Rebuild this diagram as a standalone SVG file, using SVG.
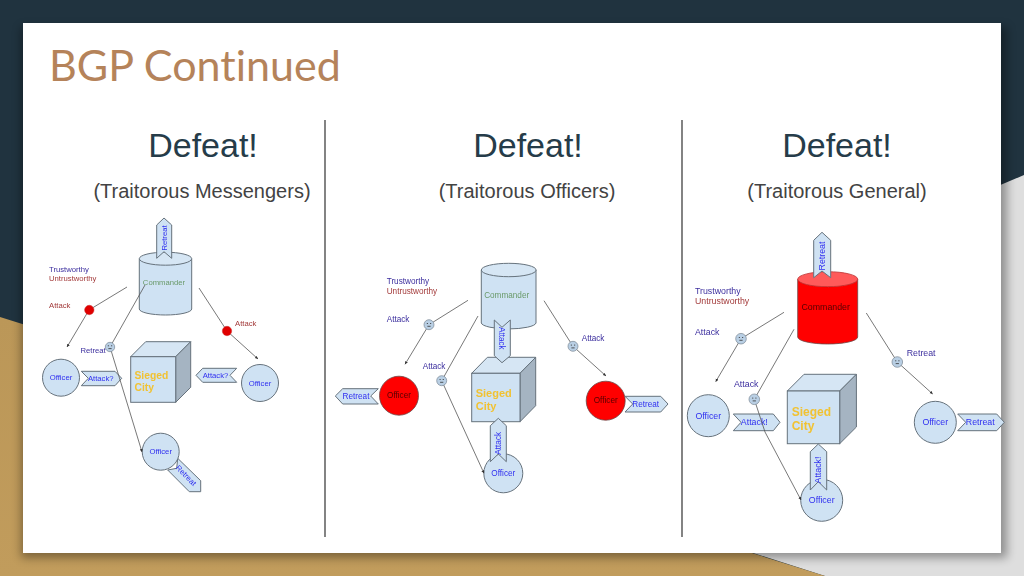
<svg xmlns="http://www.w3.org/2000/svg" xmlns:xlink="http://www.w3.org/1999/xlink" width="1024" height="576" viewBox="0 0 1024 576">
<style>
text{font-family:"Liberation Sans",Arial,sans-serif}
.title{font-family:"Lato","Open Sans",sans-serif;font-size:43px;fill:#b5835a;font-variant-ligatures:none}
.h{font-size:34px;fill:#263c49;text-anchor:middle}
.sub{font-size:20px;fill:#434343;text-anchor:middle}
.div{stroke:#333;stroke-width:1.2;fill:none}
.b{fill:#cfe2f3;stroke:#66727c;stroke-width:1}
.side{fill:#a5b4c2;stroke:#66727c;stroke-width:1}
.top{fill:#d6e6f4;stroke:#66727c;stroke-width:1}
.red{fill:#f00;stroke:#6b4a4a;stroke-width:.8}
.redtop{fill:#ff5a5a;stroke:#b33;stroke-width:.8}
.t{fill:#2f2ff0;text-anchor:middle;dominant-baseline:central}
.s7{font-size:7.7px}.s8{font-size:8.2px}.s9{font-size:8.8px}
.dk{fill:#550000}
.cmd{fill:#6a9a6a;text-anchor:middle;dominant-baseline:central}
.blue{fill:#3c2f9e}.rust{fill:#a33b3b}
.city{font-weight:bold;fill:#f1c232}
.c{stroke:#555;stroke-width:.8;fill:none}
.c2{marker-end:url(#a)}
.face{fill:#b9cfe4;stroke:#7a8794;stroke-width:.7}
.redface{fill:#e00000;stroke:#c33;stroke-width:.5}
.m{stroke:#333;stroke-width:.8;fill:none}
</style>
<defs>
<marker id="a" markerWidth="5" markerHeight="5" refX="3" refY="1.5" orient="auto" markerUnits="userSpaceOnUse"><path d="M0 0L3 1.5L0 3z" fill="#333"/></marker>
<filter id="sh" x="-5%" y="-5%" width="110%" height="110%"><feGaussianBlur stdDeviation="5"/></filter>
<filter id="soft" x="0" y="0" width="100%" height="100%" filterUnits="userSpaceOnUse" primitiveUnits="userSpaceOnUse"><feGaussianBlur stdDeviation=".35"/></filter>
<linearGradient id="gold" x1="0" y1="0" x2="0" y2="1"><stop offset="0" stop-color="#bb9758"/><stop offset="1" stop-color="#c19c5c"/></linearGradient>
<g id="sm"><path class="m" d="M-2.2-1.2h1.2M1-1.2h1.2M-1.6 1.6h3.2"/></g>
</defs>

<rect width="1024" height="576" fill="#20333f"/>
<polygon points="1024,175 1024,576 825,576 400,440" fill="#dedede"/>
<polygon points="0,317 825,576 0,576" fill="url(#gold)"/>
<rect x="21" y="27" width="986" height="531" fill="#000" opacity=".35" filter="url(#sh)"/>
<rect x="23" y="23" width="978" height="530" fill="#fff"/>

<text class="title" x="49" y="81">BGP Continued</text>
<text class="h" x="203" y="157">Defeat!</text><text class="sub" x="202" y="198">(Traitorous Messengers)</text>
<text class="h" x="528" y="157">Defeat!</text><text class="sub" x="527" y="198">(Traitorous Officers)</text>
<text class="h" x="837" y="157">Defeat!</text><text class="sub" x="837" y="198">(Traitorous General)</text>
<path class="div" d="M325 120V537M682 120V537"/>

<g filter="url(#soft)">
<!-- Panel 1 -->
<g id="p1-commander">
<path class="b" d="M139.3 258.7V309A26.2 6 0 0 0 191.7 309V258.7"/><ellipse class="top" cx="165.5" cy="258.7" rx="26.2" ry="6.5"/>
<text class="cmd s7" x="164" y="282">Commander</text>
</g>
<g id="p1-commander-retreat"><polygon class="b" points="156.7,258.3 156.7,225 164,218 171.7,225 171.7,258.3 164,251.7"/><text class="t s7" transform="translate(164.3 238) rotate(-90)">Retreat</text></g>
<g id="p1-legend"><text class="blue s7" x="49" y="272">Trustworthy</text><text class="rust s7" x="49" y="281">Untrustworthy</text><text class="rust s7" x="49" y="308">Attack</text><text class="rust s7" x="235" y="326">Attack</text><text class="blue s7" x="80.5" y="353">Retreat</text></g>
<g id="p1-city">
<polygon class="top" points="130.7,356.7 145.7,341.7 190.7,341.7 175.7,356.7"/><polygon class="side" points="175.7,356.7 190.7,341.7 190.7,387.3 175.7,402.3"/><rect class="b" x="130.7" y="356.7" width="45" height="45.6"/>
<text class="city" font-size="10.3" x="134.5" y="378.5">Sieged</text><text class="city" font-size="10.3" x="134.5" y="391">City</text>
</g>
<g id="p1-officer-left"><circle class="b" cx="61" cy="377.7" r="18.5"/><text class="t s7" x="61" y="377.7">Officer</text></g>
<g id="p1-attack-left"><polygon class="b" points="81.3,371.3 115,371.3 121.7,378.3 115,385.7 81.3,385.7 88.3,378.3"/><text class="t s7" x="100.7" y="378.3">Attack?</text></g>
<g id="p1-officer-right"><circle class="b" cx="260" cy="383" r="18.5"/><text class="t s7" x="260" y="383">Officer</text></g>
<g id="p1-attack-right"><polygon class="b" points="236.7,368.3 202.7,368.3 196,375.3 202.7,382.3 236.7,382.3 230,375.3"/><text class="t s7" x="215.5" y="375.3">Attack?</text></g>
<g id="p1-retreat-bottom"><polygon class="b" points="177.7,458.3 200.7,480.7 200.7,491.7 189.3,491.7 167.7,470 176.7,468.3"/></g>
<g id="p1-officer-bottom"><circle class="b" cx="160.7" cy="451.7" r="18.5"/><text class="t s7" x="160.7" y="451.7">Officer</text><text class="t s7" transform="translate(186 475.5) rotate(45)">Retreat</text></g>

<!-- Panel 2 -->
<g id="p2-commander">
<path class="b" d="M481.3 270V323A27.4 6.3 0 0 0 536 323V270"/><ellipse class="top" cx="508.7" cy="270" rx="27.4" ry="6.7"/>
<text class="cmd s8" x="506.7" y="295.3">Commander</text>
</g>
<g id="p2-legend"><text class="blue s8" x="386.7" y="284.3">Trustworthy</text><text class="rust s8" x="386.7" y="294">Untrustworthy</text><text class="blue s8" x="386.7" y="321.7">Attack</text><text class="blue s8" x="422.7" y="369.3">Attack</text><text class="blue s8" x="581.7" y="341">Attack</text></g>
<g id="p2-city">
<polygon class="top" points="471.7,373.3 487.4,357.3 535.7,357.3 520,373.3"/><polygon class="side" points="520,373.3 535.7,357.3 535.7,405.7 520,421.7"/><rect class="b" x="471.7" y="373.3" width="48.3" height="48.4"/>
<text class="city" font-size="11" x="475.7" y="396.5">Sieged</text><text class="city" font-size="11" x="475.7" y="409.5">City</text>
</g>
<g id="p2-attack-down"><polygon class="b" points="494.3,320 502,327.3 510.3,320 510.3,355.7 502,362.7 494.3,355.7"/><text class="t s8" transform="translate(501.7 338.3) rotate(90)">Attack</text></g>
<g id="p2-officer-bottom"><circle class="b" cx="503.3" cy="473.3" r="19.5"/><text class="t s8" x="503.3" y="473.3">Officer</text></g>
<g id="p2-attack-up"><polygon class="b" points="490.3,425.7 498.3,418.3 506.3,425.7 506.3,461.7 498.3,454 490.3,461.7"/><text class="t s8" transform="translate(498.3 443.3) rotate(-90)">Attack</text></g>
<g id="p2-officer-left"><circle class="red" cx="399" cy="395.7" r="19.5"/><text class="t s8 dk" x="399" y="395.7">Officer</text></g>
<g id="p2-retreat-left"><polygon class="b" points="378.3,388.7 342.7,388.7 335.3,396 342.7,404 378.3,404 370.7,396"/><text class="t s8" x="356" y="396">Retreat</text></g>
<g id="p2-officer-right"><circle class="red" cx="605.7" cy="400.7" r="19.5"/><text class="t s8 dk" x="605.7" y="400.7">Officer</text></g>
<g id="p2-retreat-right"><polygon class="b" points="625,396.3 660.7,396.3 668,404 660.7,412 625,412 632.7,404"/><text class="t s8" x="645.7" y="404">Retreat</text></g>

<!-- Panel 3 -->
<g id="p3-commander">
<path class="red" d="M797.7 279.2V337A30 7 0 0 0 857.7 337V279.2"/><ellipse class="redtop" cx="827.7" cy="279.2" rx="30" ry="7.5"/>
<text class="t s9 dk" x="825.7" y="307">Commander</text>
</g>
<g id="p3-commander-retreat"><polygon class="b" points="813.7,277.7 813.7,240.3 822,232.3 830.7,240.3 830.7,277.7 822,271"/><text class="t s9" transform="translate(822 256) rotate(-90)">Retreat</text></g>
<g id="p3-legend"><text class="blue s9" x="695" y="294.3">Trustworthy</text><text class="rust s9" x="695" y="304.3">Untrustworthy</text><text class="blue s9" x="695" y="335.3">Attack</text><text class="blue s9" x="734" y="387">Attack</text><text class="blue s9" x="906.7" y="356.3">Retreat</text></g>
<g id="p3-city">
<polygon class="top" points="787.3,391 804,374.3 856.4,374.3 839.7,391"/><polygon class="side" points="839.7,391 856.4,374.3 856.4,427 839.7,443.7"/><rect class="b" x="787.3" y="391" width="52.4" height="52.7"/>
<text class="city" font-size="12" x="791.7" y="416">Sieged</text><text class="city" font-size="12" x="791.7" y="430">City</text>
</g>
<g id="p3-officer-left"><circle class="b" cx="708.3" cy="415.7" r="21"/><text class="t s9" x="708.3" y="415.7">Officer</text></g>
<g id="p3-attack-left"><polygon class="b" points="733.3,414 773.3,414 780,422.3 773.3,430.7 733.3,430.7 741,422.3"/><text class="t s9" x="754.3" y="422">Attack!</text></g>
<g id="p3-officer-right"><circle class="b" cx="935.3" cy="422.3" r="21"/><text class="t s9" x="935.3" y="422.3">Officer</text></g>
<g id="p3-retreat-right"><polygon class="b" points="957.7,414 996.7,414 1004.3,422.3 996.7,430.7 957.7,430.7 965.7,422.3"/><text class="t s9" x="980.3" y="422">Retreat</text></g>
<g id="p3-officer-bottom"><circle class="b" cx="821.7" cy="500.3" r="21"/><text class="t s9" x="821.7" y="500.3">Officer</text></g>
<g id="p3-attack-up"><polygon class="b" points="810.3,451.7 818.3,444 826.7,451.7 826.7,490 818.3,481.7 810.3,490"/><text class="t s9" transform="translate(818.3 470) rotate(-90)">Attack!</text></g>

<g id="connectors">
<path class="c c2" d="M127 287L89 310L67 347"/>
<path class="c c2" d="M145 285L110 347L142 452"/>
<path class="c c2" d="M199 288L227 331L258 359"/>
<path class="c c2" d="M468 300.3L429 324.7L405 364.3"/>
<path class="c c2" d="M478 316L441.7 380.7L484 473.3"/>
<path class="c c2" d="M544 300.7L573 346.3L606 376"/>
<path class="c c2" d="M784 312.3L741 338.7L715.7 381.7"/>
<path class="c c2" d="M794 329.3L754.3 399.3L765 432L801 500"/>
<path class="c c2" d="M866.3 313L897.3 362L932.7 394"/>
</g>

<g id="p1-msg-1"><circle class="redface" cx="89.3" cy="310" r="4.7"/></g>
<g id="p1-msg-2"><circle class="face" cx="110" cy="347" r="4.7"/><use xlink:href="#sm" x="110" y="347"/></g>
<g id="p1-msg-3"><circle class="redface" cx="227" cy="331" r="4.7"/></g>
<g id="p2-msg-1"><circle class="face" cx="429" cy="324.7" r="5"/><use xlink:href="#sm" x="429" y="324.7"/></g>
<g id="p2-msg-2"><circle class="face" cx="441.7" cy="380.7" r="5"/><use xlink:href="#sm" x="441.7" y="380.7"/></g>
<g id="p2-msg-3"><circle class="face" cx="573" cy="346.3" r="5"/><use xlink:href="#sm" x="573" y="346.3"/></g>
<g id="p3-msg-1"><circle class="face" cx="741" cy="338.7" r="5.3"/><use xlink:href="#sm" x="741" y="338.7"/></g>
<g id="p3-msg-2"><circle class="face" cx="754.3" cy="399.3" r="5.3"/><use xlink:href="#sm" x="754.3" y="399.3"/></g>
<g id="p3-msg-3"><circle class="face" cx="897.3" cy="362" r="5.3"/><use xlink:href="#sm" x="897.3" y="362"/></g>
</g>
</svg>
